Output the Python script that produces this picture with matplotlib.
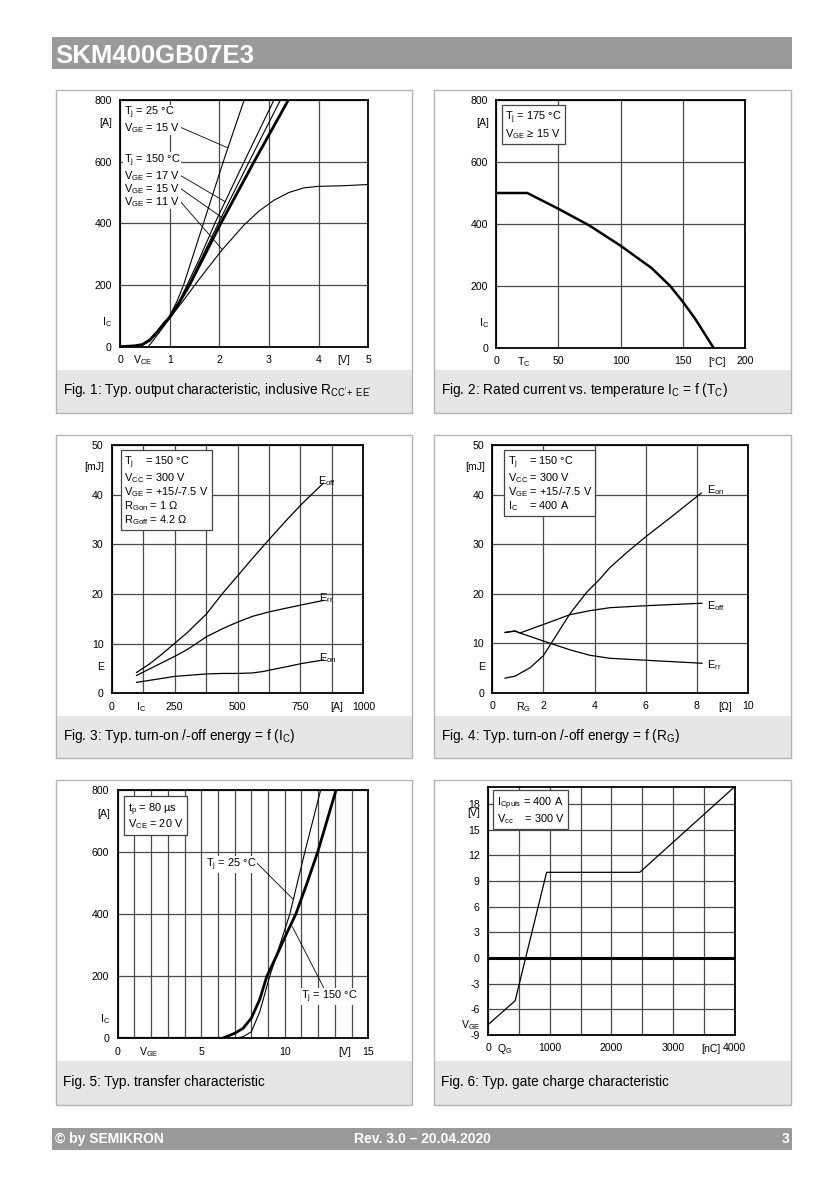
import matplotlib
matplotlib.use("Agg")
import matplotlib.pyplot as plt
from matplotlib.patches import Rectangle
from matplotlib.ticker import MultipleLocator
import matplotlib.transforms as mtransforms

plt.rcParams['font.family'] = ['Liberation Sans', 'DejaVu Sans']
plt.rcParams['mathtext.fontset'] = 'custom'
plt.rcParams['mathtext.rm'] = 'Liberation Sans'
plt.rcParams['mathtext.it'] = 'Liberation Sans:italic'
plt.rcParams['mathtext.bf'] = 'Liberation Sans:bold'
plt.rcParams['axes.unicode_minus'] = False

# ---- Fig 1: output characteristic (V_CE [V], I_C [A])
vce_25_15 = [0, 0.3, 0.45, 0.6, 0.75, 0.9, 1.0, 1.15, 1.28, 1.5, 1.7, 2.1, 2.5]
ic_25_15 = [0, 2, 5, 18, 45, 78, 100, 148, 200, 310, 410, 610, 800]
vce_150_17 = [0, 0.3, 0.45, 0.6, 0.75, 0.9, 1.0, 1.2, 1.35, 1.6, 1.91, 2.5, 3.10]
ic_150_17 = [0, 3, 7, 22, 50, 80, 98, 150, 200, 285, 400, 600, 800]
vce_extra = [0, 0.3, 0.45, 0.6, 0.75, 0.9, 1.0, 1.2, 1.38, 1.65, 1.98, 2.6, 3.23]
ic_extra = [0, 3, 7, 22, 49, 79, 96, 148, 200, 290, 400, 600, 800]
vce_150_15 = [0, 0.3, 0.45, 0.6, 0.75, 0.9, 1.0, 1.2, 1.4, 1.7, 2.03, 2.7, 3.39]
ic_150_15 = [0, 3, 7, 22, 48, 78, 95, 145, 200, 295, 400, 600, 800]
vce_150_11 = [0.57, 0.8, 1.0, 1.3, 1.6, 2.05, 2.5, 2.8, 3.1, 3.4, 3.7, 4.0, 4.5, 5.0]
ic_150_11 = [0, 48, 92, 155, 220, 313, 395, 440, 475, 500, 515, 520, 522, 526]

# ---- Fig 2: rated current vs case temperature
tc = [0, 25, 50, 75, 100, 125, 140, 150, 160, 175]
ic_rated = [500, 500, 449, 395, 330, 258, 200, 150, 95, 0]

# ---- Fig 3: switching energy vs I_C
ic_eoff = [99, 150, 200, 249, 300, 377, 437, 503, 560, 626, 690, 755, 841]
eoff_ic = [4.2, 5.9, 7.9, 10.0, 12.2, 16.0, 19.9, 23.8, 27.2, 31.0, 34.6, 38.1, 42.3]
ic_err = [99, 150, 249, 300, 377, 440, 503, 560, 626, 690, 755, 841]
err_ic = [3.6, 4.9, 7.4, 8.8, 11.4, 13.0, 14.4, 15.5, 16.4, 17.1, 17.8, 18.7]
ic_eon = [99, 200, 249, 300, 377, 440, 503, 560, 603, 650, 700, 755, 841]
eon_ic = [2.2, 3.0, 3.4, 3.6, 3.9, 4.0, 4.0, 4.1, 4.4, 4.9, 5.4, 6.0, 6.7]

# ---- Fig 4: switching energy vs R_G
rg_eon = [0.5, 0.89, 1.48, 1.99, 2.45, 3.04, 3.69, 4.21, 4.6, 5.3, 6.0, 7.0, 8.17]
eon_rg = [3.0, 3.4, 5.1, 7.5, 11.2, 16.0, 20.3, 23.0, 25.3, 28.5, 31.5, 35.5, 40.3]
rg_eoff = [0.5, 0.89, 1.08, 1.99, 3.04, 3.82, 4.6, 6.0, 8.2]
eoff_rg = [12.2, 12.5, 12.1, 13.8, 15.8, 16.6, 17.2, 17.6, 18.1]
rg_err = [0.5, 0.89, 1.08, 1.99, 3.04, 3.82, 4.6, 6.0, 8.2]
err_rg = [12.2, 12.5, 12.1, 10.5, 8.7, 7.6, 7.0, 6.6, 6.0]

# ---- Fig 5: transfer characteristic
vge_25 = [7.0, 7.5, 8.0, 8.5, 9.1, 9.7, 10.3, 11.2, 12.15]
ic_tr_25 = [0, 5, 21, 85, 200, 300, 400, 600, 800]
vge_150 = [0, 6.25, 7.0, 7.5, 8.0, 8.5, 8.93, 9.5, 10.0, 10.66, 11.3, 11.97, 13.07]
ic_tr_150 = [0, 0, 16, 32, 65, 125, 200, 265, 325, 400, 495, 600, 800]

# ---- Fig 6: gate charge
qg = [0, 440, 950, 2460, 4000]
vge_qg = [-7.8, -5.0, 10.0, 10.0, 20.0]

W, H = 834, 1182
fig = plt.figure(figsize=(W / 100, H / 100), dpi=100)

GRID = '#4a4a4a'
TICK_FS = 7.6
TXT_FS = 7.9


def fx(x):
    return x / W


def fy(y):
    return 1 - y / H


def add_rect(l, t, r, b, **kw):
    fig.patches.append(Rectangle((fx(l), fy(b)), fx(r) - fx(l), fy(t) - fy(b),
                                 transform=fig.transFigure, figure=fig, **kw))


def new_axes(l, t, r, b):
    ax = fig.add_axes([fx(l), fy(b), fx(r) - fx(l), fy(t) - fy(b)])
    for s in ax.spines.values():
        s.set_linewidth(1.3)
        s.set_color('black')
        s.set_zorder(5)
    ax.tick_params(which='both', length=0, labelsize=TICK_FS, pad=6)
    ax.grid(True, which='both', color=GRID, lw=0.9)
    ax.set_axisbelow(True)
    return ax


def axis_text(ax, x, s, ha='center'):
    tr = mtransforms.blended_transform_factory(ax.transData, ax.transAxes)
    ax.text(x, -0.055, s, transform=tr, ha=ha, va='center', fontsize=TICK_FS, clip_on=False)


def yaxis_text(ax, y, s):
    tr = mtransforms.blended_transform_factory(ax.transAxes, ax.transData)
    ax.text(-0.03, y, s, transform=tr, ha='right', va='center', fontsize=TICK_FS, clip_on=False)


def panel(l, t, r, b, band_top, caption):
    add_rect(l, band_top, r, b, facecolor='#e6e6e6', edgecolor='none', zorder=0)
    add_rect(l, t, r, b, facecolor='none', edgecolor='#b4b4b4', lw=1.0, zorder=1)
    fig.text(fx(l + 7), fy((band_top + b) / 2 - 1), caption, fontsize=9.8, ha='left', va='center')


# header & footer bars
add_rect(52, 37, 792, 69, facecolor='#9a9a9a', edgecolor='none')
fig.text(fx(55), fy(56), 'SKM400GB07E3', color='white', fontsize=18.5, fontweight='bold',
         ha='left', va='center')
add_rect(52, 1128, 792, 1150, facecolor='#9a9a9a', edgecolor='none')
foot_kw = dict(color='white', fontsize=10, fontweight='bold', va='center')
fig.text(fx(55), fy(1139), '© by SEMIKRON', ha='left', **foot_kw)
fig.text(fx(422), fy(1139), 'Rev. 3.0 – 20.04.2020', ha='center', **foot_kw)
fig.text(fx(789), fy(1139), '3', ha='right', **foot_kw)

# panels
panel(56, 90, 412, 413, 370, r"Fig. 1: Typ. output characteristic, inclusive R$_{\mathrm{CC'\!+\ EE'}}$")
panel(434, 90, 791, 413, 370, r"Fig. 2: Rated current vs. temperature I$_{\mathrm{C}}$ = f (T$_{\mathrm{C}}$)")
panel(56, 435, 412, 758, 716, r"Fig. 3: Typ. turn-on /-off energy = f (I$_{\mathrm{C}}$)")
panel(434, 435, 791, 758, 716, r"Fig. 4: Typ. turn-on /-off energy = f (R$_{\mathrm{G}}$)")
panel(56, 780, 412, 1105, 1061, "Fig. 5: Typ. transfer characteristic")
panel(434, 780, 791, 1105, 1061, "Fig. 6: Typ. gate charge characteristic")

box_kw = dict(boxstyle='square,pad=0.3', facecolor='white', edgecolor='#444444', lw=0.9)
lbl_bbox = dict(boxstyle='square,pad=0.05', facecolor='white', edgecolor='none')
lead = dict(arrowstyle='-', lw=0.6, color='black', shrinkA=0, shrinkB=0)

# ---------------- Fig 1
ax1 = new_axes(120, 100, 368.3, 346.7)
ax1.set_xlim(0, 5)
ax1.set_ylim(0, 800)
ax1.xaxis.set_major_locator(MultipleLocator(1))
ax1.yaxis.set_major_locator(MultipleLocator(200))
ax1.plot(vce_25_15, ic_25_15, color='black', lw=0.8)
ax1.plot(vce_150_17, ic_150_17, color='black', lw=0.8)
ax1.plot(vce_extra, ic_extra, color='black', lw=0.8)
ax1.plot(vce_150_11, ic_150_11, color='black', lw=0.8)
ax1.plot(vce_150_15, ic_150_15, color='black', lw=2.0)
axis_text(ax1, 0.45, r'V$_{\mathrm{CE}}$')
axis_text(ax1, 4.5, '[V]')
yaxis_text(ax1, 725, '[A]')
yaxis_text(ax1, 80, r'I$_{\mathrm{C}}$')
ax1.text(0.08, 757, r'T$_{\mathrm{j}}$ = 25 °C', fontsize=TXT_FS, va='center', bbox=lbl_bbox)
ax1.annotate(r'V$_{\mathrm{GE}}$ = 15 V', xy=(2.17, 645), xytext=(0.08, 710), fontsize=TXT_FS,
             va='center', bbox=lbl_bbox, arrowprops=dict(relpos=(1, 0.55), **lead))
ax1.text(0.08, 602, r'T$_{\mathrm{j}}$ = 150 °C', fontsize=TXT_FS, va='center', bbox=lbl_bbox)
ax1.annotate(r'V$_{\mathrm{GE}}$ = 17 V', xy=(2.12, 470), xytext=(0.08, 554), fontsize=TXT_FS,
             va='center', bbox=lbl_bbox, arrowprops=dict(relpos=(1, 0.55), **lead))
ax1.annotate(r'V$_{\mathrm{GE}}$ = 15 V', xy=(2.08, 416), xytext=(0.08, 512), fontsize=TXT_FS,
             va='center', bbox=lbl_bbox, arrowprops=dict(relpos=(1, 0.55), **lead))
ax1.annotate(r'V$_{\mathrm{GE}}$ = 11 V', xy=(2.06, 315), xytext=(0.08, 470), fontsize=TXT_FS,
             va='center', bbox=lbl_bbox, arrowprops=dict(relpos=(1, 0.55), **lead))

# ---------------- Fig 2
ax2 = new_axes(496.3, 100, 744.7, 348)
ax2.set_xlim(0, 200)
ax2.set_ylim(0, 800)
ax2.xaxis.set_major_locator(MultipleLocator(50))
ax2.yaxis.set_major_locator(MultipleLocator(200))
ax2.plot(tc, ic_rated, color='black', lw=1.8)
axis_text(ax2, 22, r'T$_{\mathrm{C}}$')
axis_text(ax2, 178, '[°C]')
yaxis_text(ax2, 725, '[A]')
yaxis_text(ax2, 80, r'I$_{\mathrm{C}}$')
ax2.text(0.035, 0.96, 'T$_{\\mathrm{j}}$ = 175 °C\nV$_{\\mathrm{GE}}$ ≥ 15 V', transform=ax2.transAxes,
         fontsize=TXT_FS, va='top', ha='left', linespacing=1.05, bbox=box_kw, zorder=6)

# ---------------- Fig 3
ax3 = new_axes(111.7, 445, 363.3, 693.3)
ax3.set_xlim(0, 1000)
ax3.set_ylim(0, 50)
ax3.set_xticks([0, 250, 500, 750, 1000])
ax3.xaxis.set_minor_locator(MultipleLocator(125))
ax3.yaxis.set_major_locator(MultipleLocator(10))
ax3.plot(ic_eoff, eoff_ic, color='black', lw=0.9)
ax3.plot(ic_err, err_ic, color='black', lw=0.9)
ax3.plot(ic_eon, eon_ic, color='black', lw=0.9)
ax3.text(820, 42.8, r'E$_{\mathrm{off}}$', fontsize=TXT_FS, va='center')
ax3.text(824, 19.2, r'E$_{\mathrm{rr}}$', fontsize=TXT_FS, va='center')
ax3.text(824, 7.1, r'E$_{\mathrm{on}}$', fontsize=TXT_FS, va='center')
axis_text(ax3, 118, r'I$_{\mathrm{C}}$')
axis_text(ax3, 895, '[A]')
yaxis_text(ax3, 45.5, '[mJ]')
yaxis_text(ax3, 5.2, 'E')
ax3.text(0.05, 0.96,
         'T$_{\\mathrm{j}}$    = 150 °C\nV$_{\\mathrm{CC}}$ = 300 V\nV$_{\\mathrm{GE}}$ = +15/-7.5 V\n'
         'R$_{\\mathrm{Gon}}$ = 1 Ω\nR$_{\\mathrm{Goff}}$ = 4.2 Ω',
         transform=ax3.transAxes, fontsize=TXT_FS, va='top', ha='left', linespacing=1.0,
         bbox=box_kw, zorder=6)

# ---------------- Fig 4
ax4 = new_axes(492.3, 445, 748, 693)
ax4.set_xlim(0, 10)
ax4.set_ylim(0, 50)
ax4.xaxis.set_major_locator(MultipleLocator(2))
ax4.yaxis.set_major_locator(MultipleLocator(10))
ax4.plot(rg_eon, eon_rg, color='black', lw=0.9)
ax4.plot(rg_eoff, eoff_rg, color='black', lw=0.9)
ax4.plot(rg_err, err_rg, color='black', lw=0.9)
ax4.text(8.4, 41.0, r'E$_{\mathrm{on}}$', fontsize=TXT_FS, va='center')
ax4.text(8.4, 17.6, r'E$_{\mathrm{off}}$', fontsize=TXT_FS, va='center')
ax4.text(8.4, 5.6, r'E$_{\mathrm{rr}}$', fontsize=TXT_FS, va='center')
axis_text(ax4, 1.2, r'R$_{\mathrm{G}}$')
axis_text(ax4, 9.1, '[Ω]')
yaxis_text(ax4, 45.5, '[mJ]')
yaxis_text(ax4, 5.2, 'E')
ax4.text(0.06, 0.96,
         'T$_{\\mathrm{j}}$    = 150 °C\nV$_{\\mathrm{CC}}$ = 300 V\nV$_{\\mathrm{GE}}$ = +15/-7.5 V\n'
         'I$_{\\mathrm{C}}$    = 400 A',
         transform=ax4.transAxes, fontsize=TXT_FS, va='top', ha='left', linespacing=1.0,
         bbox=box_kw, zorder=6)

# ---------------- Fig 5
ax5 = new_axes(117.7, 790, 368.3, 1038.3)
ax5.set_xlim(0, 15)
ax5.set_ylim(0, 800)
ax5.xaxis.set_major_locator(MultipleLocator(5))
ax5.xaxis.set_minor_locator(MultipleLocator(1))
ax5.yaxis.set_major_locator(MultipleLocator(200))
ax5.plot(vge_25, ic_tr_25, color='black', lw=0.8)
ax5.plot(vge_150, ic_tr_150, color='black', lw=2.0)
axis_text(ax5, 1.85, r'V$_{\mathrm{GE}}$')
axis_text(ax5, 13.6, '[V]')
yaxis_text(ax5, 723, '[A]')
yaxis_text(ax5, 62, r'I$_{\mathrm{C}}$')
ax5.annotate(r'T$_{\mathrm{j}}$ = 25 °C', xy=(10.48, 449), xytext=(5.3, 560), fontsize=TXT_FS,
             va='center', bbox=lbl_bbox, arrowprops=dict(relpos=(1, 0.6), **lead))
ax5.annotate(r'T$_{\mathrm{j}}$ = 150 °C', xy=(10.45, 360), xytext=(11.0, 134), fontsize=TXT_FS,
             va='center', bbox=lbl_bbox, arrowprops=dict(relpos=(0.4, 1), **lead))
ax5.text(0.04, 0.955, 't$_{\\mathrm{p}}$ = 80 µs\nV$_{\\mathrm{CE}}$ = 20 V', transform=ax5.transAxes,
         fontsize=TXT_FS, va='top', ha='left', linespacing=1.0, bbox=box_kw, zorder=6)

# ---------------- Fig 6
ax6 = new_axes(488, 786.7, 734.7, 1035)
ax6.set_xlim(0, 4000)
ax6.set_ylim(-9, 20)
ax6.set_xticks([0, 1000, 2000, 3000, 4000])
ax6.xaxis.set_minor_locator(MultipleLocator(500))
ax6.set_yticks(list(range(-9, 19, 3)))
ax6.axhline(0, color='black', lw=2.2, zorder=3)
ax6.plot(qg, vge_qg, color='black', lw=0.9)
axis_text(ax6, 270, r'Q$_{\mathrm{G}}$')
axis_text(ax6, 3620, '[nC]')
yaxis_text(ax6, 16.9, '[V]')
yaxis_text(ax6, -7.9, r'V$_{\mathrm{GE}}$')
ax6.text(0.035, 0.965, 'I$_{\\mathrm{Cpuls}}$ = 400 A\nV$_{\\mathrm{cc}}$    = 300 V', transform=ax6.transAxes,
         fontsize=TXT_FS, va='top', ha='left', linespacing=1.0, bbox=box_kw, zorder=6)

fig.savefig('out.png', dpi=100)
